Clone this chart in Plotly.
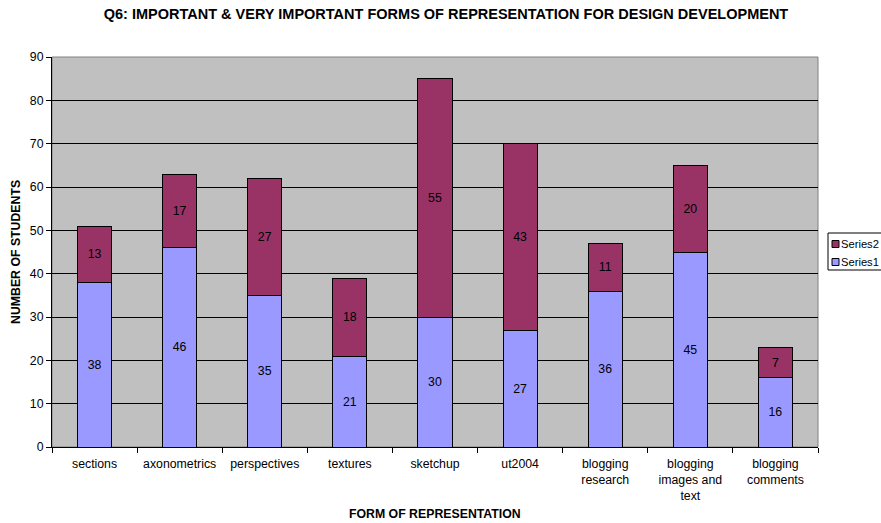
import plotly.graph_objects as go

categories = ["sections", "axonometrics", "perspectives", "textures", "sketchup",
              "ut2004", "blogging<br>research", "blogging<br>images and<br>text", "blogging<br>comments"]
series1 = [38, 46, 35, 21, 30, 27, 36, 45, 16]
series2 = [13, 17, 27, 18, 55, 43, 11, 20, 7]
series_names = ["Series1", "Series2"]
colors = ["#9999FF", "#993366"]

W, H = 881, 523
x0, x1, y0, y1 = 52, 818, 57, 447  # plot area in window pixels
FS = 12.3

def px(x):
    return (x - x0) / (x1 - x0)

def py(y):
    return (y1 - y) / (y1 - y0)

fig = go.Figure()
for vals, name, col in [(series1, series_names[0], colors[0]), (series2, series_names[1], colors[1])]:
    fig.add_trace(go.Bar(x=categories, y=vals, name=name, text=vals,
                         marker=dict(color=col, line=dict(color="black", width=1))))
fig.update_traces(textposition="inside", insidetextanchor="middle", textangle=0,
                  textfont=dict(color="black", size=FS, family="Arial, Liberation Sans"),
                  constraintext="none", cliponaxis=False)

fig.update_layout(
    width=W, height=H,
    barmode="stack", bargap=0.6,
    paper_bgcolor="white", plot_bgcolor="#C0C0C0",
    font=dict(family="Arial, Liberation Sans", size=FS, color="black"),
    margin=dict(l=x0, r=W - x1, t=y0, b=H - y1, autoexpand=False),
    title=dict(text="<b>Q6: IMPORTANT &amp; VERY IMPORTANT FORMS OF REPRESENTATION FOR DESIGN DEVELOPMENT</b>",
               x=px(446), xanchor="center", xref="paper", y=1 - 14 / H, yanchor="middle",
               font=dict(size=14.5)),
    xaxis=dict(showline=True, linecolor="black", linewidth=1, ticks="outside", ticklen=5,
               tickcolor="black", tickson="boundaries", tickfont=dict(size=FS),
               ticklabelstandoff=5),
    yaxis=dict(range=[0, 90], dtick=10, showline=True, linecolor="black", linewidth=1,
               ticks="outside", ticklen=5, tickcolor="black", gridcolor="black", gridwidth=1,
               tickfont=dict(size=FS), zeroline=False),
    showlegend=False,
)
fig.add_shape(type="rect", xref="paper", yref="paper", x0=0, x1=1, y0=0, y1=1,
              line=dict(color="#808080", width=1), layer="below")

# axis titles
fig.add_annotation(text="<b>FORM OF REPRESENTATION</b>", xref="paper", yref="paper",
                   x=px(435), y=py(514), xanchor="center", yanchor="middle",
                   showarrow=False, font=dict(size=FS))
fig.add_annotation(text="<b>NUMBER OF STUDENTS</b>", xref="paper", yref="paper",
                   x=px(16), y=py(252), xanchor="center", yanchor="middle", textangle=-90,
                   showarrow=False, font=dict(size=FS))

# legend (Series2 above Series1)
fig.add_shape(type="rect", xref="paper", yref="paper", x0=px(828), x1=px(905),
              y0=py(270), y1=py(233), line=dict(color="black", width=1), fillcolor="white")
for name, col, yc in [(series_names[1], colors[1], 244), (series_names[0], colors[0], 262)]:
    fig.add_shape(type="rect", xref="paper", yref="paper", x0=px(832), x1=px(839),
                  y0=py(yc + 3.5), y1=py(yc - 3.5), line=dict(color="black", width=1),
                  fillcolor=col)
    fig.add_annotation(text=name, xref="paper", yref="paper", x=px(839), y=py(yc),
                       xanchor="left", yanchor="middle", showarrow=False, font=dict(size=11.2))

fig.write_html("out.html", config={"displayModeBar": False},
               post_script="document.body.style.margin='0';document.body.style.overflow='hidden';")
